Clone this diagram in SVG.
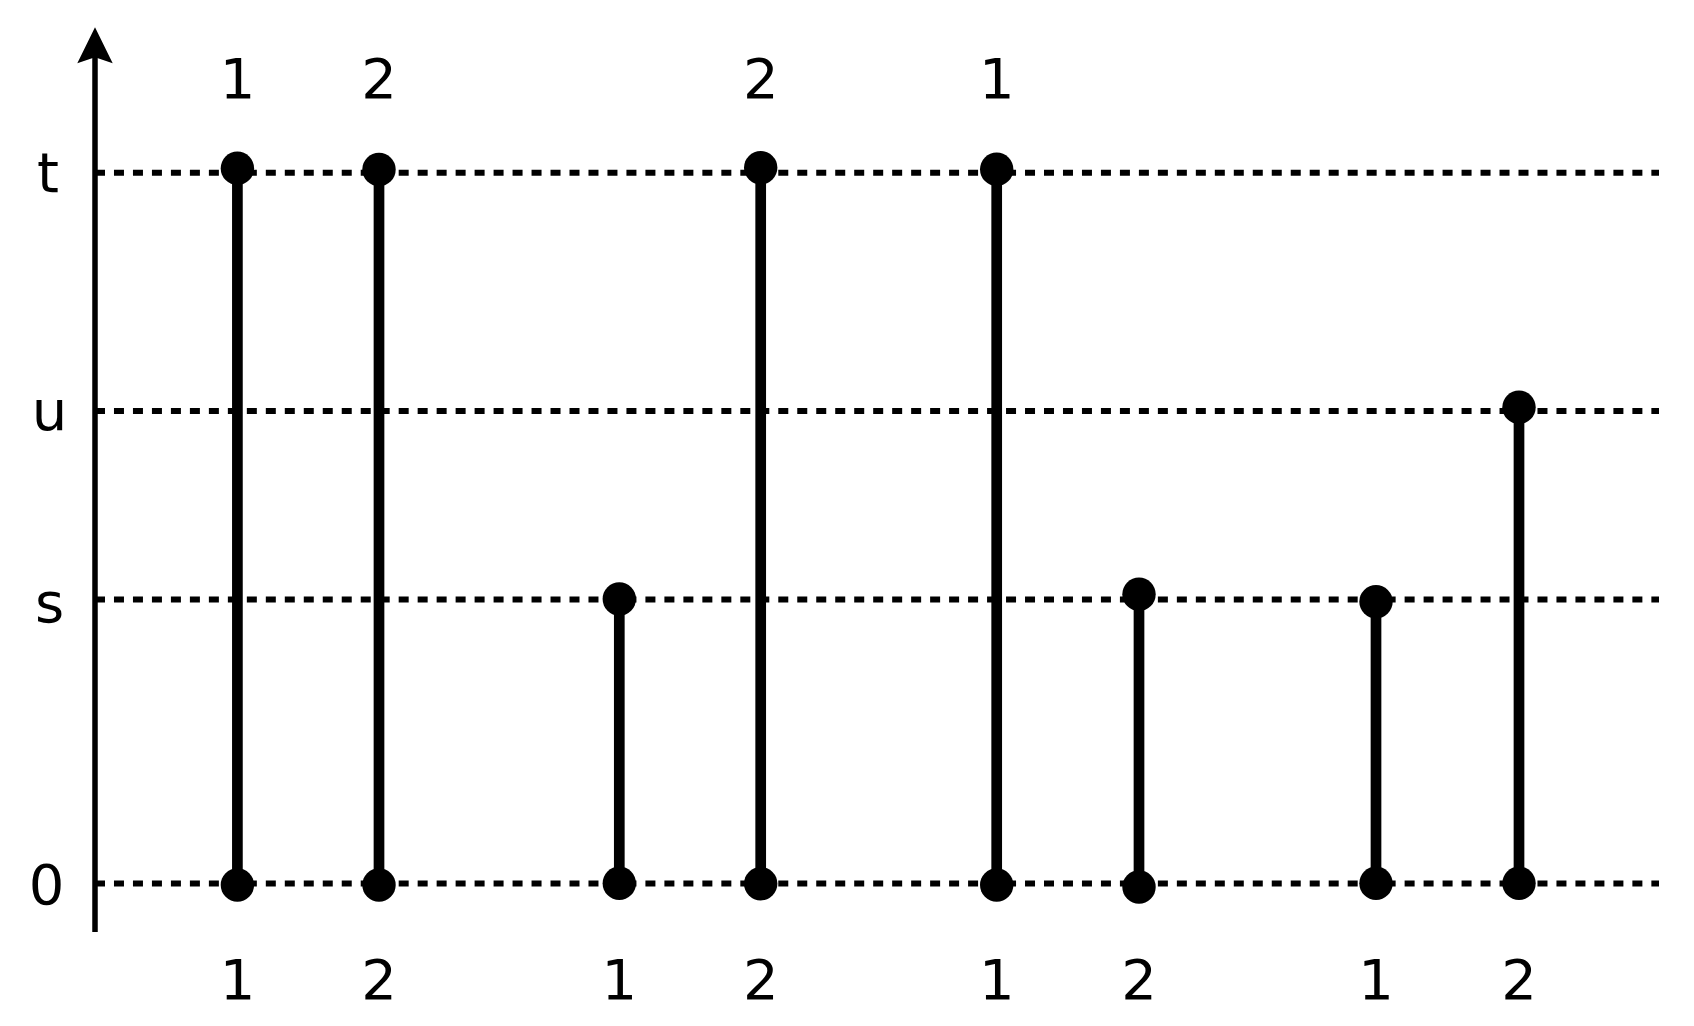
<svg xmlns="http://www.w3.org/2000/svg" width="1694" height="1026" viewBox="0 0 1694 1026">
<style>
.grid{stroke:#000;stroke-width:6;stroke-dasharray:10 8.98;fill:none}
.stem{stroke:#000;stroke-width:10.7;fill:none}
.dot{fill:#000}
.lbl{font-family:"DejaVu Sans",sans-serif;font-size:56px;fill:#000;text-anchor:middle}
</style>
<rect width="1694" height="1026" fill="#fff"/>
<g id="axis">
<line x1="95" y1="50" x2="95" y2="932" stroke="#000" stroke-width="5.5"/>
<polygon points="95,27.3 112.7,63.3 95,57.3 77.3,63.3" fill="#000"/>
<text class="lbl" x="48" y="192">t</text>
<text class="lbl" x="49.5" y="430">u</text>
<text class="lbl" x="49.5" y="622">s</text>
<text class="lbl" x="46.5" y="904">0</text>
</g>
<g id="connectors">
<line class="grid" x1="95" y1="172.7" x2="1659" y2="172.7"/>
<line class="grid" x1="95" y1="411" x2="1659" y2="411"/>
<line class="grid" x1="95" y1="599.5" x2="1659" y2="599.5"/>
<line class="grid" x1="95" y1="883.5" x2="1659" y2="883.5"/>
</g>
<g id="seg1">
<line class="stem" x1="237.4" y1="168.3" x2="237.4" y2="885"/>
<circle class="dot" cx="237.4" cy="168.3" r="16.7"/>
<circle class="dot" cx="237.4" cy="885" r="16.7"/>
<text class="lbl" x="237.5" y="98.3">1</text>
<text class="lbl" x="237.5" y="999.3">1</text>
</g>
<g id="seg2">
<line class="stem" x1="379" y1="169.5" x2="379" y2="885"/>
<circle class="dot" cx="379" cy="169.5" r="16.7"/>
<circle class="dot" cx="379" cy="885" r="16.7"/>
<text class="lbl" x="379" y="98.3">2</text>
<text class="lbl" x="379" y="999.3">2</text>
</g>
<g id="seg3">
<line class="stem" x1="619.3" y1="599" x2="619.3" y2="883.3"/>
<circle class="dot" cx="619.3" cy="599" r="16.7"/>
<circle class="dot" cx="619.3" cy="883.3" r="16.7"/>
<text class="lbl" x="619.3" y="999.3">1</text>
</g>
<g id="seg4">
<line class="stem" x1="760.7" y1="167.7" x2="760.7" y2="883.7"/>
<circle class="dot" cx="760.7" cy="167.7" r="16.7"/>
<circle class="dot" cx="760.7" cy="883.7" r="16.7"/>
<text class="lbl" x="760.7" y="98.3">2</text>
<text class="lbl" x="760.7" y="999.3">2</text>
</g>
<g id="seg5">
<line class="stem" x1="996.7" y1="169.3" x2="996.7" y2="885"/>
<circle class="dot" cx="996.7" cy="169.3" r="16.7"/>
<circle class="dot" cx="996.7" cy="885" r="16.7"/>
<text class="lbl" x="996.7" y="98.3">1</text>
<text class="lbl" x="996.7" y="999.3">1</text>
</g>
<g id="seg6">
<line class="stem" x1="1139" y1="594.3" x2="1139" y2="887"/>
<circle class="dot" cx="1139" cy="594.3" r="16.7"/>
<circle class="dot" cx="1139" cy="887" r="16.7"/>
<text class="lbl" x="1139" y="999.3">2</text>
</g>
<g id="seg7">
<line class="stem" x1="1376" y1="601.7" x2="1376" y2="883.3"/>
<circle class="dot" cx="1376" cy="601.7" r="16.7"/>
<circle class="dot" cx="1376" cy="883.3" r="16.7"/>
<text class="lbl" x="1376" y="999.3">1</text>
</g>
<g id="seg8">
<line class="stem" x1="1519" y1="407.3" x2="1519" y2="883.3"/>
<circle class="dot" cx="1519" cy="407.3" r="16.7"/>
<circle class="dot" cx="1519" cy="883.3" r="16.7"/>
<text class="lbl" x="1519" y="999.3">2</text>
</g>
</svg>
